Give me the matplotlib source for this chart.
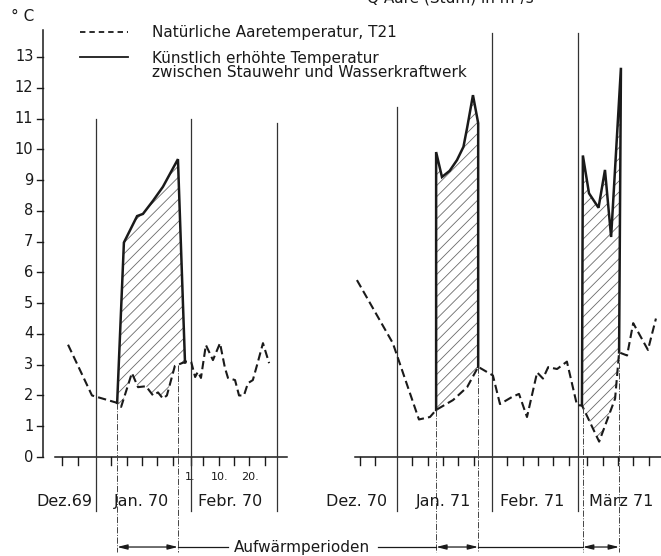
import numpy as np
import matplotlib.pyplot as plt

# Winter 1969/70, x = days counted from 1 Dec 1969
nat70_day = [21.9, 29.7, 37.9, 39.2, 42.7, 44.7, 47.3, 49.6, 51.2, 52.8, 54.1, 56.7,
             59.0, 60.3, 62.0, 63.3, 64.2, 65.2, 66.8, 69.1, 71.4, 73.0, 74.0, 76.3,
             77.6, 79.2, 80.5, 82.1, 83.5, 85.4, 87.4]
nat70_temp = [3.65, 2.0, 1.76, 1.63, 2.73, 2.27, 2.3, 2.0, 2.1, 1.9, 2.0, 2.96,
              3.05, 3.1, 3.1, 2.6, 2.77, 2.57, 3.64, 3.15, 3.7, 2.9, 2.57, 2.5,
              2.0, 2.0, 2.4, 2.5, 3.0, 3.7, 3.05]
art70_day = [37.9, 40.1, 44.4, 46.3, 49.6, 52.8, 57.7, 60.0]
art70_temp = [1.76, 6.97, 7.83, 7.9, 8.33, 8.78, 9.68, 3.07]

# Winter 1970/71, x = days counted from 1 Dec 1970
nat71_day = [18.0, 29.7, 38.2, 41.8, 43.8, 49.3, 53.9, 57.5, 62.3, 64.6, 68.5, 70.8,
             73.4, 76.7, 78.6, 80.3, 83.2, 86.4, 89.7, 91.3, 96.9, 102.1, 103.4,
             106.0, 108.0, 112.8, 115.4]
nat71_temp = [5.75, 3.7, 1.22, 1.3, 1.53, 1.85, 2.27, 2.93, 2.65, 1.72, 1.95, 2.05,
              1.3, 2.75, 2.55, 2.92, 2.86, 3.1, 1.68, 1.68, 0.5, 1.9, 3.4,
              3.3, 4.35, 3.48, 4.5]
art71a_day = [43.8, 43.8, 45.7, 48.2, 50.6, 52.7, 53.9, 55.8, 57.5, 57.5]
art71a_temp = [1.53, 9.91, 9.1, 9.3, 9.65, 10.08, 10.7, 11.76, 10.85, 2.93]
art71b_day = [91.3, 91.6, 93.6, 96.7, 98.8, 100.8, 104.0, 103.4]
art71b_temp = [1.68, 9.8, 8.57, 8.1, 9.33, 7.15, 12.65, 3.4]

# heating periods (start, end) in days
periods70 = [(37.9, 57.7)]
periods71 = [(43.8, 57.5), (91.6, 103.4)]

month_edges = [31, 62, 90]
month_tops70 = [11.0, 11.0, 10.85]
month_tops71 = [11.37, 13.78, 13.78]
ticks70 = [20, 25, 36, 41, 46, 51, 56, 62, 66, 71, 76, 81, 86]
ticks71 = [19, 24, 36, 41, 46, 51, 56, 67, 72, 77, 82, 87, 93, 98, 103, 108, 113]
months70 = ['Dez.69', 'Jan. 70', 'Febr. 70']
months71 = ['Dez. 70', 'Jan. 71', 'Febr. 71', 'März 71']
month_pos70 = [20.7, 45.8, 74.7]
month_pos71 = [17.9, 46.2, 75.2, 104.2]
feb_days = ['1.', '10.', '20.']
feb_day_pos = [61.6, 71.4, 81.2]
y_ticks = list(range(0, 14))

SHIFT = 98  # horizontal offset of the second winter
INK = '#1a1a1a'

plt.rcParams['font.family'] = 'DejaVu Sans'
plt.rcParams['hatch.linewidth'] = 0.6

fig = plt.figure(figsize=(6.61, 5.56), dpi=100)
ax = fig.add_axes([0, 0, 1, 1])
ax.set_xlim(-0.26, 215.05)
ax.set_ylim(-3.217, 14.852)
ax.axis('off')


def shift(xs, dx):
    return [x + dx for x in xs]


def hatched(art_x, art_t, nat_x, nat_t, dx):
    lo, hi = min(art_x[0], art_x[-1]), max(art_x[0], art_x[-1])
    inside = [(x, t) for x, t in zip(nat_x, nat_t) if lo < x < hi][::-1]
    px = list(art_x) + [p[0] for p in inside]
    pt = list(art_t) + [p[1] for p in inside]
    ax.fill(shift(px, dx), pt, facecolor='none', edgecolor='#6a6a6a',
            linewidth=0, hatch='///')
    ax.plot(shift(art_x, dx), art_t, color=INK, lw=1.8, solid_joinstyle='miter')


# y axis
ax.plot([13.75, 13.75], [0, 13.88], color=INK, lw=1.1)
for v in y_ticks:
    ax.plot([11.8, 13.75], [v, v], color=INK, lw=1.0)
    ax.text(10.6, v, str(v), ha='right', va='center', fontsize=10.5, color=INK)
ax.text(7.2, 14.3, '° C', ha='center', va='center', fontsize=11, color=INK)

# x axes of both winters
ax.plot([17.6, 93.2], [0, 0], color=INK, lw=1.1)
ax.plot([115.4, 215.0], [0, 0], color=INK, lw=1.1)
for t in ticks70:
    ax.plot([t, t], [0, -0.26], color=INK, lw=1.0)
for t in ticks71:
    ax.plot([t + SHIFT, t + SHIFT], [0, -0.26], color=INK, lw=1.0)

# month separators
for m, top in zip(month_edges, month_tops70):
    ax.plot([m, m], [-1.75, top], color='#333333', lw=0.9)
for m, top in zip(month_edges, month_tops71):
    ax.plot([m + SHIFT, m + SHIFT], [-1.75, top], color='#333333', lw=0.9)

for name, x in zip(months70, month_pos70):
    ax.text(x, -1.46, name, ha='center', va='center', fontsize=11.5, color=INK)
for name, x in zip(months71, month_pos71):
    ax.text(x + SHIFT, -1.46, name, ha='center', va='center', fontsize=11.5, color=INK)
for lab, x in zip(feb_days, feb_day_pos):
    ax.text(x, -0.65, lab, ha='center', va='center', fontsize=8, color=INK)

# hatched heating areas and curves
hatched(art70_day, art70_temp, nat70_day, nat70_temp, 0)
hatched(art71a_day, art71a_temp, nat71_day, nat71_temp, SHIFT)
hatched(art71b_day, art71b_temp, nat71_day, nat71_temp, SHIFT)
ax.plot(nat70_day, nat70_temp, color=INK, lw=1.5, dashes=(4, 2))
ax.plot(shift(nat71_day, SHIFT), nat71_temp, color=INK, lw=1.5, dashes=(4, 2))

# heating period markers
arrow_y = -2.925
for periods, nx, nt, dx in [(periods70, nat70_day, nat70_temp, 0),
                            (periods71, nat71_day, nat71_temp, SHIFT)]:
    for a, b in periods:
        for x in (a, b):
            ax.plot([x + dx, x + dx], [np.interp(x, nx, nt), -3.1], color='#444444',
                    lw=0.7, linestyle='-.')
        ax.annotate('', xy=(b + dx, arrow_y), xytext=(a + dx, arrow_y),
                    arrowprops=dict(arrowstyle='<|-|>,head_length=0.6,head_width=0.15',
                                    color=INK, lw=0.9, shrinkA=0, shrinkB=0))
ax.plot([57.7, 74.0], [arrow_y, arrow_y], color=INK, lw=0.9)
ax.plot([122.9, 43.8 + SHIFT], [arrow_y, arrow_y], color=INK, lw=0.9)
ax.plot([57.5 + SHIFT, 91.6 + SHIFT], [arrow_y, arrow_y], color=INK, lw=0.9)
ax.text(98.0, arrow_y, 'Aufwärmperioden', ha='center', va='center',
        fontsize=11, color=INK)

# legend
ax.plot([25.8, 41.4], [13.81, 13.81], color=INK, lw=1.3, dashes=(3, 2.2))
ax.plot([25.8, 41.4], [13.0, 13.0], color=INK, lw=1.3)
ax.text(49.25, 13.78, 'Natürliche Aaretemperatur, T21', ha='left', va='center',
        fontsize=11, color=INK)
ax.text(49.25, 13.2, 'Künstlich erhöhte Temperatur\nzwischen Stauwehr und Wasserkraftwerk',
        ha='left', va='top', fontsize=11, color=INK, linespacing=0.95)

# axis title of the discharge chart above, cut by the page edge
ax.text(119.3, 14.76, 'Q Aare (Stdm) in m³/s', ha='left', va='baseline',
        fontsize=11, color=INK)

fig.savefig('out.png', dpi=100, facecolor='white')
